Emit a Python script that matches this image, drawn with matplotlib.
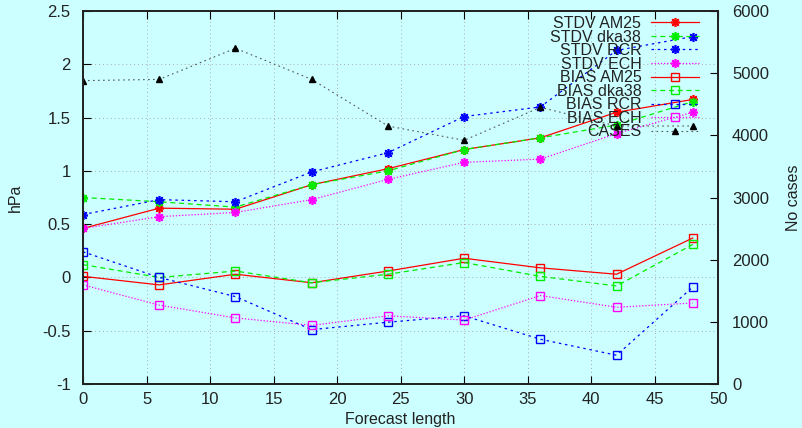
import matplotlib.pyplot as plt
import numpy as np

plt.rcParams['font.family'] = ['Liberation Sans', 'DejaVu Sans']

# forecast lengths (hours)
lead = [0, 6, 12, 18, 24, 30, 36, 42, 48]

stdv_am25 = [0.46, 0.65, 0.64, 0.87, 1.02, 1.20, 1.31, 1.55, 1.67]
stdv_dka38 = [0.75, 0.71, 0.66, 0.87, 1.00, 1.20, 1.31, 1.43, 1.65]
stdv_rcr = [0.59, 0.73, 0.71, 0.99, 1.17, 1.51, 1.60, 2.13, 2.26]
stdv_ech = [0.46, 0.57, 0.61, 0.73, 0.92, 1.08, 1.11, 1.35, 1.55]

bias_am25 = [0.01, -0.07, 0.03, -0.05, 0.06, 0.18, 0.09, 0.03, 0.37]
bias_dka38 = [0.12, 0.00, 0.06, -0.05, 0.03, 0.14, 0.01, -0.08, 0.31]
bias_rcr = [0.24, 0.00, -0.18, -0.49, -0.42, -0.36, -0.58, -0.73, -0.09]
bias_ech = [-0.07, -0.26, -0.38, -0.45, -0.36, -0.40, -0.17, -0.28, -0.24]

cases = [4880, 4900, 5400, 4900, 4150, 3920, 4450, 4150, 4150]

bg = '#ccffff'
star = (8, 2, 0)

fig = plt.figure(figsize=(8.03, 4.28), dpi=100, facecolor=bg)
ax = fig.add_axes([0.1034, 0.1028, 0.791, 0.8715], facecolor=bg)
ax2 = ax.twinx()

lw = 0.9
sm = dict(marker=star, ms=6.5, mew=1.2)
sq = dict(marker='s', ms=6, mfc='none', mew=1.0)
ax.plot(lead, stdv_am25, color='#ff0000', ls='-', lw=lw, label='STDV AM25', **sm)
ax.plot(lead, stdv_dka38, color='#00ee00', ls=(0, (4, 3)), lw=lw, label='STDV dka38', **sm)
ax.plot(lead, stdv_rcr, color='#0000ff', ls=(0, (2, 3)), lw=lw, label='STDV RCR', **sm)
ax.plot(lead, stdv_ech, color='#ff00ff', ls=(0, (1, 1.5)), lw=lw, label='STDV ECH', **sm)

ax.plot(lead, bias_am25, color='#ff0000', ls='-', lw=lw, label='BIAS AM25', **sq)
ax.plot(lead, bias_dka38, color='#00ee00', ls=(0, (4, 3)), lw=lw, label='BIAS dka38', **sq)
ax.plot(lead, bias_rcr, color='#0000ff', ls=(0, (2, 3)), lw=lw, label='BIAS RCR', **sq)
ax.plot(lead, bias_ech, color='#ff00ff', ls=(0, (1, 1.5)), lw=lw, label='BIAS ECH', **sq)

ax2.plot(lead, cases, color='#555555', ls=(0, (1.5, 3)), lw=0.8, marker='^', ms=5,
         mfc='black', mec='black', label='CASES')

ax.set_xlim(0, 50)
ax.set_ylim(-1, 2.5)
ax2.set_ylim(0, 6000)
ax.set_xticks(np.arange(0, 51, 5))
ax.set_yticks(np.arange(-1, 2.51, 0.5))
ax.set_yticklabels(['-1', '-0.5', '0', '0.5', '1', '1.5', '2', '2.5'])
ax2.set_yticks(np.arange(0, 6001, 1000))

ax.grid(True, color='#aaaaaa', ls=(0, (1, 3)), lw=0.7)
ax.set_xlabel('Forecast length', fontsize=11.5, color='#222222', labelpad=3)
ax.set_ylabel('hPa', fontsize=11.5, color='#222222', labelpad=14)
ax2.set_ylabel('No cases', fontsize=11.5, color='#222222', labelpad=12)

ax.tick_params(direction='in', length=6, labelsize=12, labelcolor='#222222',
               top=True, right=False)
ax2.tick_params(direction='in', length=6, labelsize=12, labelcolor='#222222', pad=10)
ax.tick_params(axis='y', pad=9)
ax.tick_params(axis='x', pad=6)
for a in (ax, ax2):
    for s in a.spines.values():
        s.set_linewidth(1.3)
        s.set_color('#222222')

h1, l1 = ax.get_legend_handles_labels()
h2, l2 = ax2.get_legend_handles_labels()
leg = ax2.legend(h1 + h2, l1 + l2, loc='upper right', frameon=False, markerfirst=False,
                 fontsize=11.5, labelspacing=-0.09, handlelength=3.0, handletextpad=0.6,
                 borderpad=0.1, borderaxespad=0.0, bbox_to_anchor=(0.972, 0.991))
for t in leg.get_texts():
    t.set_color('#222222')

fig.savefig('out.png', dpi=100, facecolor=bg)
